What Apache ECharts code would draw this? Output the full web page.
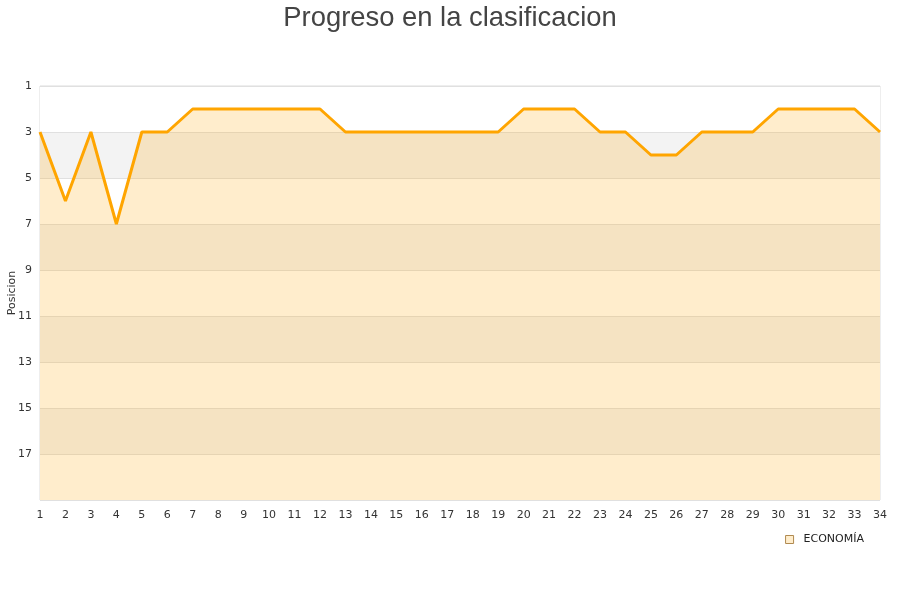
<!DOCTYPE html>
<html><head><meta charset="utf-8">
<script src="https://cdn.jsdelivr.net/npm/echarts@6/dist/echarts.min.js"></script>
<style>html,body{margin:0;padding:0;background:#fff}#c{width:900px;height:600px}</style>
</head><body><div id="c"></div>
<script>
const jornadas = Array.from({length:34},(_,i)=>String(i+1));
const posiciones = [3,6,3,7,3,3,2,2,2,2,2,2,3,3,3,3,3,3,3,2,2,2,3,3,4,4,3,3,3,2,2,2,2,3];
const seriesName = 'ECONOMÍA';
const chart = echarts.init(document.getElementById('c'));
chart.setOption({
  animation:false,
  title:{text:'Progreso en la clasificacion',left:'center',top:0,textStyle:{fontFamily:'Liberation Sans',fontSize:27.4,fontWeight:'normal',color:'#444'}},
  grid:{left:40,right:20,top:86,bottom:100,show:true,borderColor:'#ddd',borderWidth:1,outerBoundsMode:'none',containLabel:false},
  legend:{data:[{name:seriesName,icon:'rect',itemStyle:{color:'#ffedcc',borderColor:'#b08a50',borderWidth:1}}],right:31,top:529,itemWidth:8,itemHeight:8,itemGap:6,textStyle:{fontFamily:'DejaVu Sans',fontSize:11,color:'#222',padding:[0,0,0,5]}},
  xAxis:{type:'category',data:jornadas,boundaryGap:false,
    axisLine:{show:false},axisTick:{show:false},splitLine:{show:false},
    axisLabel:{interval:0,margin:10,fontFamily:'DejaVu Sans',fontSize:11,color:'#333'}},
  yAxis:{type:'value',inverse:true,min:1,max:19,interval:2,name:'Posicion',nameLocation:'middle',nameGap:22,nameMoveOverlap:false,
    nameTextStyle:{fontFamily:'DejaVu Sans',fontSize:11,color:'#333'},
    axisLine:{show:false},axisTick:{show:false},
    axisLabel:{showMaxLabel:false,margin:8,fontFamily:'DejaVu Sans',fontSize:11,color:'#333'},
    splitLine:{show:true,lineStyle:{color:'#e0e0e0'}},
    splitArea:{show:true,areaStyle:{color:['#ffffff','#f3f3f3']}}},
  series:[{name:seriesName,type:'line',data:posiciones,symbol:'none',
    lineStyle:{color:'#ffa500',width:3},itemStyle:{color:'#ffa500'},
    areaStyle:{origin:'end',color:'#ffa500',opacity:0.2}}]
});
</script></body></html>
